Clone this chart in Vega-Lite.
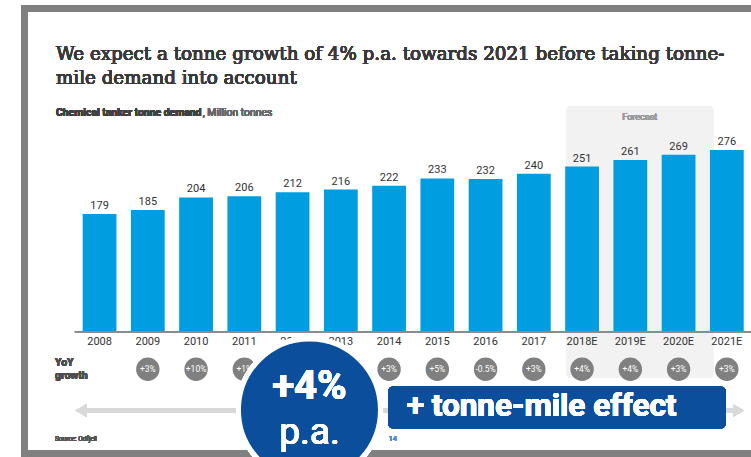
{
  "$schema": "https://vega.github.io/schema/vega-lite/v6.json",
  "width": 736.5,
  "height": 445,
  "autosize": {"type": "none"},
  "padding": {"left": 24.5, "top": 8.5, "right": -10, "bottom": 3.5},
  "background": "white",
  "config": {"view": {"stroke": "#808080", "strokeWidth": 7}, "text": {"font": "Roboto"}},
  "data": {"values": [
    {"year": "2008", "value": 179, "yoy": ""},
    {"year": "2009", "value": 185, "yoy": "+3%"},
    {"year": "2010", "value": 204, "yoy": "+10%"},
    {"year": "2011", "value": 206, "yoy": "+1%"},
    {"year": "2012", "value": 212, "yoy": "+3%"},
    {"year": "2013", "value": 216, "yoy": "+2%"},
    {"year": "2014", "value": 222, "yoy": "+3%"},
    {"year": "2015", "value": 233, "yoy": "+5%"},
    {"year": "2016", "value": 232, "yoy": "-0.5%"},
    {"year": "2017", "value": 240, "yoy": "+3%"},
    {"year": "2018E", "value": 251, "yoy": "+4%"},
    {"year": "2019E", "value": 261, "yoy": "+4%"},
    {"year": "2020E", "value": 269, "yoy": "+3%"},
    {"year": "2021E", "value": 276, "yoy": "+3%"}
  ]},
  "encoding": {
    "x": {"field": "year", "type": "ordinal", "axis": null,
      "scale": {"type": "band", "domain": ["2008","2009","2010","2011","2012","2013","2014","2015","2016","2017","2018E","2019E","2020E","2021E"],
        "paddingInner": 0.3, "paddingOuter": 0.782, "align": 0.771}},
    "y": {"field": "value", "type": "quantitative", "axis": null,
      "scale": {"domain": [-185.1, 491.2], "nice": false, "zero": false}}
  },
  "layer": [
    {"mark": {"type": "rect", "color": "#f2f2f2", "cornerRadius": 4},
     "encoding": {"x": {"datum": "2018E", "type": "ordinal", "bandPosition": 0.04}, "x2": {"datum": "2021E", "bandPosition": 0.1},
       "y": {"datum": 343}, "y2": {"datum": -70.4}}},
    {"mark": {"type": "text", "text": "Forecast", "fontSize": 9, "color": "#999999", "baseline": "middle"},
     "encoding": {"x": {"datum": "2019E", "type": "ordinal", "bandPosition": 0.78}, "y": {"datum": 326.3}}},
    {"mark": {"type": "bar", "color": "#009de0"},
     "encoding": {"y2": {"datum": 0}}},
    {"mark": {"type": "text", "fontSize": 11, "color": "#333333", "baseline": "bottom", "dy": -3},
     "encoding": {"text": {"field": "value"}}},
    {"mark": {"type": "rule", "color": "#8c8c8c", "strokeWidth": 1},
     "encoding": {"x": {"datum": "2008", "type": "ordinal", "bandPosition": -0.23}, "x2": {"datum": "2021E", "bandPosition": 1.5}, "y": {"datum": 0}}},
    {"mark": {"type": "text", "fontSize": 11, "color": "#333333", "baseline": "middle"},
     "encoding": {"text": {"field": "year"}, "y": {"datum": -16.1}}},
    {"transform": [{"filter": "datum.yoy != ''"}],
     "mark": {"type": "point", "shape": "circle", "filled": true, "color": "#808080", "size": 548, "opacity": 1},
     "encoding": {"y": {"datum": -57.1}}},
    {"transform": [{"filter": "datum.yoy != ''"}],
     "mark": {"type": "text", "fontSize": 8.5, "color": "white", "baseline": "middle"},
     "encoding": {"text": {"field": "yoy"}, "y": {"datum": -57.1}}},
    {"mark": {"type": "text", "text": "YoY", "fontSize": 10.5, "fontWeight": "bold", "color": "#4d4d4d", "align": "left", "baseline": "middle", "dx": -27.7},
     "encoding": {"x": {"datum": "2008", "type": "ordinal", "bandPosition": 0}, "y": {"datum": -47.4}}},
    {"mark": {"type": "text", "text": "growth", "fontSize": 10.5, "fontWeight": "bold", "color": "#4d4d4d", "align": "left", "baseline": "middle", "dx": -27.7},
     "encoding": {"x": {"datum": "2008", "type": "ordinal", "bandPosition": 0}, "y": {"datum": -67.3}}},
    {"mark": {"type": "rule", "color": "#d9d9d9", "strokeWidth": 4.5},
     "encoding": {"x": {"datum": "2008", "type": "ordinal", "bandPosition": -0.12}, "x2": {"datum": "2021E", "bandPosition": 0.7}, "y": {"datum": -119.8}}},
    {"mark": {"type": "point", "shape": "triangle-left", "filled": true, "color": "#d9d9d9", "size": 160, "opacity": 1},
     "encoding": {"x": {"datum": "2008", "type": "ordinal", "bandPosition": -0.05}, "y": {"datum": -119.8}}},
    {"mark": {"type": "point", "shape": "triangle-right", "filled": true, "color": "#d9d9d9", "size": 160, "opacity": 1},
     "encoding": {"x": {"datum": "2021E", "type": "ordinal", "bandPosition": 0.85}, "y": {"datum": -119.8}}},
    {"mark": {"type": "point", "shape": "circle", "filled": true, "color": "#0b4f9c", "size": 20164, "opacity": 1, "stroke": "white", "strokeWidth": 5},
     "encoding": {"x": {"datum": "2012", "type": "ordinal", "bandPosition": 1.0}, "y": {"datum": -119}}},
    {"mark": {"type": "text", "text": "+4%", "fontSize": 40, "fontWeight": "bold", "color": "white", "baseline": "middle"},
     "encoding": {"x": {"datum": "2012", "type": "ordinal", "bandPosition": 1.0}, "y": {"datum": -83.6}}},
    {"mark": {"type": "text", "text": "p.a.", "fontSize": 37, "color": "white", "baseline": "middle"},
     "encoding": {"x": {"datum": "2012", "type": "ordinal", "bandPosition": 1.0}, "y": {"datum": -154}}},
    {"mark": {"type": "rect", "color": "#0b4f9c", "cornerRadius": 4},
     "encoding": {"x": {"datum": "2014", "type": "ordinal", "bandPosition": 0.48}, "x2": {"datum": "2021E", "bandPosition": 0.46},
       "y": {"datum": -83.6}, "y2": {"datum": -146.8}}},
    {"mark": {"type": "text", "text": "+ tonne-mile effect", "fontSize": 31.5, "fontWeight": "bold", "color": "white", "align": "left", "baseline": "middle"},
     "encoding": {"x": {"datum": "2014", "type": "ordinal", "bandPosition": 1.02}, "y": {"datum": -115}}},
    {"mark": {"type": "text", "text": "Source: Odfjell", "fontSize": 6.5, "color": "#555555", "align": "left", "baseline": "middle", "dx": -27.7},
     "encoding": {"x": {"datum": "2008", "type": "ordinal", "bandPosition": 0}, "y": {"datum": -163.5}}},
    {"mark": {"type": "text", "text": "14", "fontSize": 7, "color": "#4a90d9", "baseline": "middle"},
     "encoding": {"x": {"datum": "2014", "type": "ordinal", "bandPosition": 0.61}, "y": {"datum": -163.5}}},
    {"mark": {"type": "text", "text": "We expect a tonne growth of 4% p.a. towards 2021 before taking tonne-", "font": "DejaVu Serif", "fontSize": 18.3, "color": "#3a3a3a", "align": "left", "baseline": "middle", "dx": -26.7},
     "encoding": {"x": {"datum": "2008", "type": "ordinal", "bandPosition": 0}, "y": {"datum": 420.5}}},
    {"mark": {"type": "text", "text": "mile demand into account", "font": "DejaVu Serif", "fontSize": 18.3, "color": "#3a3a3a", "align": "left", "baseline": "middle", "dx": -26.7},
     "encoding": {"x": {"datum": "2008", "type": "ordinal", "bandPosition": 0}, "y": {"datum": 384}}},
    {"mark": {"type": "text", "text": "Chemical tanker tonne demand", "fontSize": 10.4, "fontWeight": "bold", "color": "#404040", "align": "left", "baseline": "middle", "dx": -26.7},
     "encoding": {"x": {"datum": "2008", "type": "ordinal", "bandPosition": 0}, "y": {"datum": 332.4}}},
    {"mark": {"type": "text", "text": ", Million tonnes", "fontSize": 10.4, "color": "#666666", "align": "left", "baseline": "middle", "dx": 120}, 
     "encoding": {"x": {"datum": "2008", "type": "ordinal", "bandPosition": 0}, "y": {"datum": 332.4}}}
  ]
}
